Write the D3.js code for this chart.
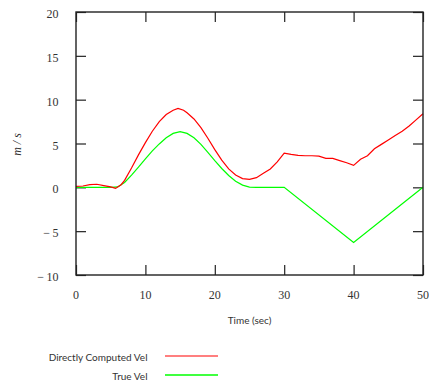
<!DOCTYPE html>
<html>
<head>
<meta charset="utf-8">
<script src="https://cdn.jsdelivr.net/npm/d3@7"></script>
<style>
  html, body { margin: 0; padding: 0; background: #fff; }
  svg { display: block; }
</style>
</head>
<body>
<svg id="chart" width="429" height="391"></svg>
<script>
// Time samples (s) and velocities (m/s)
const trueTime = [0, 1, 2, 3, 4, 5, 6, 7, 8, 9, 10, 11, 12, 13, 14, 15, 16, 17, 18, 19, 20,
  21, 22, 23, 24, 25, 26, 27, 28, 29, 30, 40, 50];
const trueVel = [0, 0, 0, 0, 0, 0, 0.05, 0.55, 1.4, 2.3, 3.25, 4.15, 4.95, 5.65, 6.15, 6.35, 6.15,
  5.65, 4.9, 4.0, 3.05, 2.15, 1.35, 0.7, 0.25, 0.03, 0, 0, 0, 0, 0, -6.3, 0];

const compTime = [0, 1, 2, 3, 4, 5, 5.7, 6.5, 7, 8, 9, 10, 11, 12, 13, 14, 14.7, 15.5, 16, 17, 18,
  19, 20, 21, 22, 23, 24, 25, 26, 27, 28, 29, 30, 31, 32, 33, 34, 35, 36, 37, 38, 39, 40,
  41, 42, 43, 44, 45, 46, 47, 48, 49, 50];
const compVel = [0.1, 0.15, 0.3, 0.35, 0.2, 0.05, -0.12, 0.3, 0.8, 2.2, 3.7, 5.1, 6.4, 7.5, 8.3,
  8.8, 9.0, 8.8, 8.5, 7.8, 6.8, 5.6, 4.3, 3.1, 2.1, 1.4, 1.0, 0.9, 1.1, 1.6, 2.1, 2.9, 3.9,
  3.75, 3.65, 3.6, 3.6, 3.55, 3.3, 3.3, 3.05, 2.8, 2.5, 3.2, 3.6, 4.4, 4.9, 5.4, 5.9, 6.4,
  7.0, 7.7, 8.4];

const xTicks = [0, 10, 20, 30, 40, 50];
const yTicks = [-10, -5, 0, 5, 10, 15, 20];
const seriesNames = ["Directly Computed Vel", "True Vel"];
const seriesColors = ["#ff0000", "#00ff00"];

const svg = d3.select("#chart");
const plotL = 76, plotR = 423, plotT = 12, plotB = 275;

const x = d3.scaleLinear().domain([0, 50]).range([plotL, plotR]);
const y = d3.scaleLinear().domain([-10, 20]).range([plotB, plotT]);

const frameColor = "#222";
const textColor = "#333";
const serif = "'Liberation Serif', 'DejaVu Serif', serif";
const sans = "Lato, 'DejaVu Sans', sans-serif";

// Inward ticks on all four sides
const tickLen = 10;
const axisBottom = d3.axisBottom(x).tickValues(xTicks).tickSize(-tickLen).tickFormat("");
const axisTop = d3.axisTop(x).tickValues(xTicks).tickSize(-tickLen).tickFormat("");
const axisLeft = d3.axisLeft(y).tickValues(yTicks).tickSize(-tickLen).tickFormat("");
const axisRight = d3.axisRight(y).tickValues(yTicks).tickSize(-tickLen).tickFormat("");

function styleAxis(g) {
  g.select(".domain").remove();
  g.selectAll(".tick line").attr("stroke", frameColor).attr("stroke-width", 1.2);
}
svg.append("g").attr("transform", `translate(0,${plotB})`).call(axisBottom).call(styleAxis);
svg.append("g").attr("transform", `translate(0,${plotT})`).call(axisTop).call(styleAxis);
svg.append("g").attr("transform", `translate(${plotL},0)`).call(axisLeft).call(styleAxis);
svg.append("g").attr("transform", `translate(${plotR},0)`).call(axisRight).call(styleAxis);

// Tick labels (math-style minus with a small gap)
const fmt = v => (v < 0 ? "\u2212\u2009" + Math.abs(v) : String(v));
svg.append("g").selectAll("text").data(yTicks).join("text")
  .attr("x", plotL - 17.5)
  .attr("y", d => y(d) + 6)
  .attr("text-anchor", "end")
  .attr("font-family", serif)
  .attr("font-size", 12)
  .attr("fill", textColor)
  .text(fmt);
svg.append("g").selectAll("text").data(xTicks).join("text")
  .attr("x", d => x(d))
  .attr("y", 299)
  .attr("text-anchor", "middle")
  .attr("font-family", serif)
  .attr("font-size", 12)
  .attr("fill", textColor)
  .text(fmt);

// Axis titles
svg.append("text")
  .attr("transform", `translate(21,${(plotT + plotB) / 2 + 1}) rotate(-90)`)
  .attr("text-anchor", "middle")
  .attr("font-family", serif)
  .attr("font-style", "italic")
  .attr("font-size", 12)
  .attr("fill", textColor)
  .text("m / s");
svg.append("text")
  .attr("x", (plotL + plotR) / 2)
  .attr("y", 324)
  .attr("text-anchor", "middle")
  .attr("font-family", sans)
  .attr("font-size", 10)
  .attr("fill", textColor)
  .text("Time (sec)");

// Curves
const line = d3.line().x(d => x(d[0])).y(d => y(d[1]));
const compData = compTime.map((t, i) => [t, compVel[i]]);
const trueData = trueTime.map((t, i) => [t, trueVel[i]]);

svg.append("path").datum(trueData)
  .attr("d", line).attr("fill", "none")
  .attr("stroke", seriesColors[1]).attr("stroke-width", 1.2);
svg.append("path").datum(compData)
  .attr("d", line).attr("fill", "none")
  .attr("stroke", seriesColors[0]).attr("stroke-width", 1.2);

// Frame
svg.append("rect")
  .attr("x", plotL).attr("y", plotT)
  .attr("width", plotR - plotL).attr("height", plotB - plotT)
  .attr("fill", "none").attr("stroke", frameColor).attr("stroke-width", 1.4);

// Legend
const legendY = [356, 375];
const legendW = [1.1, 1.7];
const legend = svg.append("g").selectAll("g").data(seriesNames).join("g");
legend.append("text")
  .attr("x", 147.5)
  .attr("y", (d, i) => legendY[i] + 5)
  .attr("text-anchor", "end")
  .attr("font-family", sans)
  .attr("font-size", 10)
  .attr("fill", textColor)
  .text(d => d);
legend.append("line")
  .attr("x1", 165).attr("x2", 218)
  .attr("y1", (d, i) => legendY[i]).attr("y2", (d, i) => legendY[i])
  .attr("stroke", (d, i) => seriesColors[i])
  .attr("stroke-width", (d, i) => legendW[i]);
</script>
</body>
</html>
